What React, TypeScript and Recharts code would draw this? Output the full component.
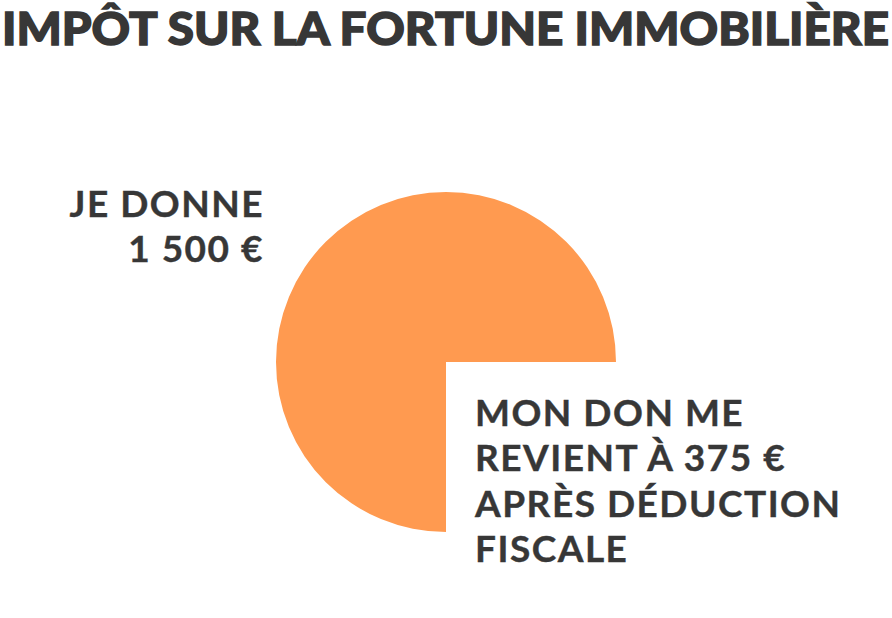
import { Cell, Pie, PieChart } from 'recharts'

// ─── Données ──────────────────────────────────────────────────────────────────

const SLICE_NAMES = ['Coût réel', 'Déduction fiscale']
const SLICE_VALUES = [1125, 375]
const SLICE_COLORS = ['#ff9a50', 'transparent']

const TITLE = 'IMPÔT SUR LA FORTUNE IMMOBILIÈRE'
const LEFT_LABEL = ['JE DONNE', '1 500 €']
const RIGHT_LABEL = ['MON DON ME', 'REVIENT À 375 €', 'APRÈS DÉDUCTION', 'FISCALE']

const TEXT_COLOR = '#373737'
const FONT = 'Lato, "Open Sans", sans-serif'

const W = 892
const H = 618

export default function App(): React.JSX.Element {
  const data = SLICE_NAMES.map((name, i) => ({ name, value: SLICE_VALUES[i] }))

  return (
    <div style={{ position: 'fixed', left: 0, top: 0, width: W, height: H, background: '#fff' }}>
      <PieChart width={W} height={H} margin={{ top: 0, right: 0, bottom: 0, left: 0 }}>
        <Pie
          data={data}
          dataKey="value"
          nameKey="name"
          cx={446}
          cy={362}
          outerRadius={170}
          innerRadius={0}
          startAngle={0}
          endAngle={360}
          stroke="none"
          isAnimationActive={false}
        >
          {data.map((d, i) => (
            <Cell key={d.name} fill={SLICE_COLORS[i]} />
          ))}
        </Pie>
      </PieChart>

      {/* Textes */}
      <svg
        width={W}
        height={H}
        style={{ position: 'absolute', left: 0, top: 0, pointerEvents: 'none' }}
      >
        <text
          x={2}
          y={45}
          fontFamily={FONT}
          fontWeight={900}
          fontSize={45}
          fill={TEXT_COLOR}
          stroke={TEXT_COLOR}
          strokeWidth={1.4}
          textLength={887}
          lengthAdjust="spacingAndGlyphs"
        >
          {TITLE}
        </text>

        {LEFT_LABEL.map((line, i) => (
          <text
            key={line}
            x={264}
            y={217 + i * 45}
            textAnchor="end"
            fontFamily={FONT}
            fontWeight={700}
            fontSize={37}
            letterSpacing={1.5}
            fill={TEXT_COLOR}
            stroke={TEXT_COLOR}
            strokeWidth={0.4}
          >
            {line}
          </text>
        ))}

        {RIGHT_LABEL.map((line, i) => (
          <text
            key={line}
            x={475}
            y={426 + i * 45.3}
            fontFamily={FONT}
            fontWeight={700}
            fontSize={37}
            letterSpacing={1.5}
            fill={TEXT_COLOR}
            stroke={TEXT_COLOR}
            strokeWidth={0.4}
          >
            {line}
          </text>
        ))}
      </svg>
    </div>
  )
}
